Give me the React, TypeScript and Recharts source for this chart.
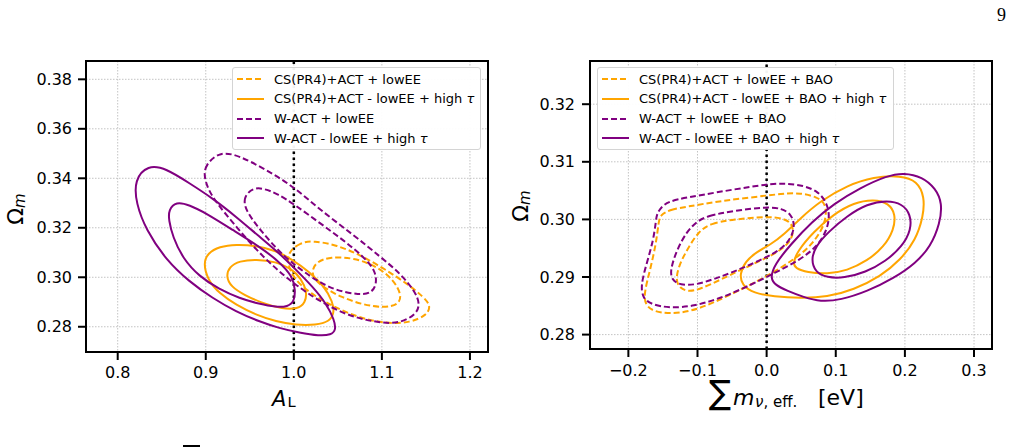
import React from 'react';
import {
  ScatterChart,
  Scatter,
  XAxis,
  YAxis,
  CartesianGrid,
  ReferenceLine,
  ReferenceArea,
} from 'recharts';

const ORANGE = '#ffa500';
const PURPLE = '#800080';
const FONT = '"DejaVu Sans", Verdana, sans-serif';

type Pt = { x: number; y: number };
const toPts = (arr: number[][]): Pt[] => arr.map(([x, y]) => ({ x, y }));

// ---------- Left panel: A_L vs Omega_m ----------
const alTicks = [0.8, 0.9, 1.0, 1.1, 1.2];
const omegaTicksAL = [0.28, 0.3, 0.32, 0.34, 0.36, 0.38];
const alDomain: [number, number] = [0.764, 1.2205];
const omegaDomainAL: [number, number] = [0.2698, 0.3874];

// CS(PR4)+ACT + lowEE (2 sigma, 1 sigma)
const csLowEE_AL_2s = [
  [1.0223, 0.3148], [1.0072, 0.314], [0.9939, 0.3103], [0.9928, 0.3056], [0.9996, 0.2995],
  [1.0186, 0.2935], [1.0451, 0.2881], [1.0754, 0.2834], [1.1057, 0.2813], [1.1322, 0.2816],
  [1.1511, 0.2847], [1.1557, 0.2884], [1.1473, 0.2921], [1.1284, 0.2975], [1.1019, 0.3036],
  [1.0754, 0.309], [1.0489, 0.313],
];
const csLowEE_AL_1s = [
  [1.0205, 0.3029], [1.0261, 0.3063], [1.0413, 0.3083], [1.0678, 0.3079], [1.0943, 0.3045],
  [1.1133, 0.2989], [1.1227, 0.2928], [1.1189, 0.2888], [1.1019, 0.2877], [1.0792, 0.2888],
  [1.0527, 0.2921], [1.0337, 0.2959], [1.0223, 0.2995],
];
// CS(PR4)+ACT - lowEE + high tau
const csHighTau_AL_2s = [
  [0.8973, 0.3057], [0.9022, 0.3097], [0.9154, 0.3124], [0.9344, 0.3133], [0.9571, 0.3128],
  [0.9798, 0.3108], [0.9987, 0.307], [1.0176, 0.3023], [1.0347, 0.2962], [1.0441, 0.2902],
  [1.046, 0.2855], [1.0403, 0.2821], [1.0252, 0.2807], [1.0025, 0.2807], [0.9798, 0.2821],
  [0.9571, 0.2848], [0.9344, 0.2888], [0.9154, 0.2935], [0.9022, 0.2989],
];
const csHighTau_AL_1s = [
  [0.923, 0.3003], [0.9268, 0.3043], [0.9382, 0.3066], [0.9571, 0.3073], [0.9798, 0.3063],
  [0.9968, 0.3036], [1.0082, 0.2996], [1.015, 0.2942], [1.0131, 0.2897], [1.0044, 0.2872],
  [0.9874, 0.2872], [0.9646, 0.2895], [0.9438, 0.2928], [0.9287, 0.2962],
];
// W-ACT + lowEE
const wactLowEE_AL_2s = [
  [0.9163, 0.351], [0.8992, 0.3454], [0.8981, 0.3406], [0.903, 0.3353], [0.9125, 0.3299],
  [0.9314, 0.3218], [0.9542, 0.3123], [0.9769, 0.3043], [0.9996, 0.2975], [1.0299, 0.2901],
  [1.064, 0.284], [1.1019, 0.2813], [1.1208, 0.2816], [1.1379, 0.2847], [1.1436, 0.2888],
  [1.1379, 0.2942], [1.1208, 0.3016], [1.0981, 0.3083], [1.0678, 0.3171], [1.0299, 0.3272],
  [1.0, 0.3366], [0.9693, 0.3433], [0.939, 0.349],
];
const wactLowEE_AL_1s = [
  [0.9542, 0.3362], [0.9428, 0.3326], [0.9447, 0.3272], [0.9617, 0.3191], [0.9883, 0.3083],
  [1.0186, 0.3002], [1.0451, 0.2948], [1.0754, 0.2928], [1.0886, 0.2937], [1.0943, 0.2975],
  [1.0924, 0.3029], [1.0792, 0.3083], [1.0564, 0.315], [1.0299, 0.3218], [1.0, 0.3296],
  [0.9807, 0.3339], [0.9655, 0.3359],
];
// W-ACT - lowEE + high tau
const wactHighTau_AL_2s = [
  [0.8189, 0.3393], [0.8341, 0.3454], [0.8549, 0.344], [0.8814, 0.338], [0.9079, 0.3319],
  [0.9344, 0.3245], [0.9609, 0.3164], [0.9836, 0.3097], [1.0025, 0.303], [1.0214, 0.2962],
  [1.0366, 0.2895], [1.046, 0.2828], [1.0479, 0.2787], [1.0422, 0.2767], [1.029, 0.2763],
  [1.0063, 0.2776], [0.9836, 0.2794], [0.9609, 0.2821], [0.9344, 0.2861], [0.9079, 0.2915],
  [0.8814, 0.2982], [0.8549, 0.307], [0.8322, 0.3191], [0.8208, 0.3299],
];
const wactHighTau_AL_1s = [
  [0.8579, 0.3272], [0.8662, 0.3306], [0.8814, 0.3292], [0.9003, 0.3259], [0.9306, 0.3191],
  [0.9609, 0.3124], [0.9836, 0.3063], [0.9987, 0.3003], [1.0017, 0.2949], [1.0006, 0.2902],
  [0.993, 0.2881], [0.9798, 0.2879], [0.9609, 0.2892], [0.9382, 0.2915], [0.9154, 0.2951],
  [0.8927, 0.3003], [0.8738, 0.3077], [0.8625, 0.3164], [0.8579, 0.3232],
];

// ---------- Right panel: sum m_nu,eff vs Omega_m ----------
const mnuTicks = [-0.2, -0.1, 0.0, 0.1, 0.2, 0.3];
const omegaTicksMnu = [0.28, 0.29, 0.3, 0.31, 0.32];
const mnuDomain: [number, number] = [-0.2555, 0.326];
const omegaDomainMnu: [number, number] = [0.2775, 0.3275];

// CS(PR4)+ACT + lowEE + BAO
const csLowEE_M_2s = [
  [-0.1541, 0.3008], [-0.1396, 0.3017], [-0.1155, 0.3022], [-0.072, 0.3031], [-0.0237, 0.3038],
  [0.0246, 0.3045], [0.0488, 0.3046], [0.0729, 0.3039], [0.085, 0.3028], [0.0865, 0.3005],
  [0.0802, 0.2982], [0.0633, 0.2953], [0.0391, 0.293], [0.0005, 0.2901], [-0.0382, 0.2878],
  [-0.0768, 0.2855], [-0.1106, 0.284], [-0.1396, 0.2836], [-0.1638, 0.284], [-0.1758, 0.2852],
  [-0.1773, 0.2872], [-0.1686, 0.2912], [-0.1599, 0.2958], [-0.1565, 0.2993],
];
const csLowEE_M_1s = [
  [-0.0986, 0.2979], [-0.0816, 0.2993], [-0.0478, 0.3], [0.0005, 0.3005], [0.0246, 0.3002],
  [0.0367, 0.2993], [0.0391, 0.2977], [0.0333, 0.296], [0.0174, 0.2944], [-0.0092, 0.2928],
  [-0.0382, 0.2912], [-0.0671, 0.2895], [-0.0961, 0.2879], [-0.113, 0.2874], [-0.1261, 0.2881],
  [-0.1314, 0.2895], [-0.1275, 0.2918], [-0.1155, 0.2947],
];
// CS(PR4)+ACT - lowEE + BAO + high tau
const csHighTau_M_2s = [
  [-0.0391, 0.2905], [-0.0309, 0.2927], [-0.014, 0.2944], [0.0053, 0.2956], [0.0246, 0.2973],
  [0.0488, 0.3002], [0.0778, 0.3032], [0.1164, 0.3059], [0.1551, 0.3074], [0.1937, 0.3076],
  [0.2179, 0.3067], [0.2285, 0.3039], [0.2266, 0.3005], [0.2155, 0.2964], [0.1937, 0.293],
  [0.1647, 0.2901], [0.1261, 0.2878], [0.0874, 0.2865], [0.0488, 0.2863], [0.0101, 0.2866],
  [-0.0188, 0.2872], [-0.0357, 0.2886],
];
const csHighTau_M_1s = [
  [0.0382, 0.2924], [0.044, 0.2944], [0.0681, 0.2979], [0.0971, 0.3009], [0.1261, 0.3029],
  [0.1551, 0.3035], [0.1768, 0.3028], [0.1865, 0.3009], [0.1841, 0.2982], [0.1696, 0.2952],
  [0.1454, 0.2928], [0.1164, 0.2911], [0.0874, 0.2905], [0.0585, 0.2908], [0.0415, 0.2915],
];
// W-ACT + lowEE + BAO
const wactLowEE_M_2s = [
  [-0.1589, 0.301], [-0.1493, 0.3027], [-0.13, 0.3035], [-0.0961, 0.3042], [-0.0478, 0.3052],
  [0.0005, 0.3061], [0.0246, 0.3063], [0.0536, 0.3059], [0.0754, 0.3048], [0.0874, 0.3028],
  [0.0913, 0.3005], [0.0865, 0.2979], [0.0729, 0.2953], [0.0488, 0.293], [0.0101, 0.2906],
  [-0.0285, 0.2883], [-0.0671, 0.2863], [-0.1058, 0.2849], [-0.1396, 0.2846], [-0.1662, 0.2852],
  [-0.1792, 0.2863], [-0.1821, 0.2886], [-0.1734, 0.2924], [-0.1638, 0.2964], [-0.1599, 0.2999],
];
const wactLowEE_M_1s = [
  [-0.101, 0.2996], [-0.0865, 0.3006], [-0.0478, 0.3015], [0.0005, 0.3022], [0.0222, 0.3019],
  [0.0353, 0.3009], [0.0401, 0.2993], [0.0382, 0.2976], [0.0295, 0.2957], [0.0101, 0.294],
  [-0.0188, 0.2924], [-0.0478, 0.2909], [-0.0768, 0.2896], [-0.1034, 0.2886], [-0.1251, 0.2886],
  [-0.1372, 0.2895], [-0.1396, 0.2912], [-0.13, 0.2947], [-0.1155, 0.2979],
];
// W-ACT - lowEE + BAO + high tau
const wactHighTau_M_2s = [
  [0.0053, 0.2898], [0.0111, 0.2921], [0.0343, 0.2956], [0.0657, 0.2996], [0.0971, 0.3027],
  [0.1357, 0.3055], [0.1744, 0.3076], [0.1986, 0.3081], [0.2251, 0.3074], [0.2444, 0.3054],
  [0.2541, 0.3028], [0.2507, 0.2993], [0.2372, 0.2953], [0.2155, 0.2924], [0.1841, 0.2898],
  [0.1454, 0.2875], [0.1068, 0.286], [0.0778, 0.2857], [0.0536, 0.2865], [0.0295, 0.2876],
  [0.0126, 0.2886],
];
const wactHighTau_M_1s = [
  [0.0643, 0.293], [0.0705, 0.2953], [0.0899, 0.2979], [0.1164, 0.3006], [0.1454, 0.3027],
  [0.1744, 0.3033], [0.1961, 0.3027], [0.2082, 0.3009], [0.2092, 0.2982], [0.1961, 0.2953],
  [0.172, 0.2927], [0.143, 0.2908], [0.1116, 0.2898], [0.0874, 0.2899], [0.0705, 0.2908],
];

const legendAL = ['CS(PR4)+ACT + lowEE', 'CS(PR4)+ACT - lowEE + high τ', 'W-ACT + lowEE', 'W-ACT - lowEE + high τ'];
const legendMnu = [
  'CS(PR4)+ACT + lowEE + BAO',
  'CS(PR4)+ACT - lowEE + BAO + high τ',
  'W-ACT + lowEE + BAO',
  'W-ACT - lowEE + BAO + high τ',
];
const legendColors = [ORANGE, ORANGE, PURPLE, PURPLE];
const legendDashed = [true, false, true, false];

type Contour = { data: number[][]; color: string; dashed: boolean };

const contoursAL: Contour[] = [
  { data: csLowEE_AL_2s, color: ORANGE, dashed: true },
  { data: csLowEE_AL_1s, color: ORANGE, dashed: true },
  { data: csHighTau_AL_2s, color: ORANGE, dashed: false },
  { data: csHighTau_AL_1s, color: ORANGE, dashed: false },
  { data: wactLowEE_AL_2s, color: PURPLE, dashed: true },
  { data: wactLowEE_AL_1s, color: PURPLE, dashed: true },
  { data: wactHighTau_AL_2s, color: PURPLE, dashed: false },
  { data: wactHighTau_AL_1s, color: PURPLE, dashed: false },
];
const contoursMnu: Contour[] = [
  { data: csLowEE_M_2s, color: ORANGE, dashed: true },
  { data: csLowEE_M_1s, color: ORANGE, dashed: true },
  { data: csHighTau_M_2s, color: ORANGE, dashed: false },
  { data: csHighTau_M_1s, color: ORANGE, dashed: false },
  { data: wactLowEE_M_2s, color: PURPLE, dashed: true },
  { data: wactLowEE_M_1s, color: PURPLE, dashed: true },
  { data: wactHighTau_M_2s, color: PURPLE, dashed: false },
  { data: wactHighTau_M_1s, color: PURPLE, dashed: false },
];

const noMarker = () => <g />;
const fmtMinus = (v: number) => (v < 0 ? '\u2212' + Math.abs(v).toFixed(1) : v.toFixed(1));

type PanelProps = {
  left: number;
  width: number;
  height: number;
  margin: { top: number; right: number; bottom: number; left: number };
  yAxisWidth: number;
  xDomain: [number, number];
  yDomain: [number, number];
  xTicks: number[];
  yTicks: number[];
  fmtX: (v: number) => string;
  fmtY: (v: number) => string;
  refX: number;
  contours: Contour[];
  xTickMargin: number;
  yTickMargin: number;
};

function Panel(p: PanelProps) {
  const tickStyle = { fill: '#000', fontSize: 16, fontFamily: FONT };
  const tickLine = { stroke: '#000', strokeWidth: 2 };
  return (
    <div style={{ position: 'absolute', left: p.left, top: 0 }}>
      <ScatterChart width={p.width} height={p.height} margin={p.margin}>
        <CartesianGrid stroke="#b4b4b4" strokeDasharray="1.5 1.5" strokeWidth={0.8} />
        <XAxis
          type="number"
          dataKey="x"
          domain={p.xDomain}
          ticks={p.xTicks}
          interval={0}
          allowDataOverflow
          axisLine={false}
          tickLine={tickLine}
          tickSize={8}
          tickMargin={p.xTickMargin}
          tick={tickStyle}
          tickFormatter={p.fmtX}
          height={40}
        />
        <YAxis
          type="number"
          dataKey="y"
          domain={p.yDomain}
          ticks={p.yTicks}
          interval={0}
          allowDataOverflow
          axisLine={false}
          tickLine={tickLine}
          tickSize={8}
          tickMargin={p.yTickMargin}
          tick={tickStyle}
          tickFormatter={p.fmtY}
          width={p.yAxisWidth}
        />
        {p.contours.map((c, i) => (
          <Scatter
            key={i}
            data={toPts(c.data)}
            fill={c.color}
            line={{
              stroke: c.color,
              strokeWidth: 2,
              strokeDasharray: c.dashed ? '6 3' : undefined,
            }}
            lineJointType="basisClosed"
            shape={noMarker}
            isAnimationActive={false}
          />
        ))}
        <ReferenceLine x={p.refX} stroke="#000" strokeWidth={2.5} strokeDasharray="2.5 3.5" />
        <ReferenceArea
          x1={p.xDomain[0]}
          x2={p.xDomain[1]}
          y1={p.yDomain[0]}
          y2={p.yDomain[1]}
          fill="none"
          fillOpacity={0}
          stroke="#000"
          strokeWidth={2}
          ifOverflow="visible"
        />
      </ScatterChart>
    </div>
  );
}

function LegendBox({ left, top, width, labels }: { left: number; top: number; width: number; labels: string[] }) {
  return (
    <div
      style={{
        position: 'absolute',
        left,
        top,
        width,
        height: 83,
        border: '1px solid #d4d4d4',
        borderRadius: 3,
        background: 'rgba(255,255,255,0.95)',
        boxSizing: 'border-box',
        fontFamily: FONT,
        fontSize: 13,
        color: '#000',
      }}
    >
      {labels.map((lab, i) => {
        const parts = lab.split('τ');
        return (
          <div
            key={i}
            style={{ position: 'absolute', left: 4, top: 1 + i * 19.8, height: 20, display: 'flex', alignItems: 'center', whiteSpace: 'nowrap' }}
          >
            <svg width={27} height={20} style={{ display: 'block' }}>
              <line
                x1={0}
                y1={10}
                x2={27}
                y2={10}
                stroke={legendColors[i]}
                strokeWidth={2}
                strokeDasharray={legendDashed[i] ? '6 3' : undefined}
              />
            </svg>
            <span style={{ marginLeft: 10 }}>
              {parts[0]}
              {parts.length > 1 ? <i>τ</i> : null}
            </span>
          </div>
        );
      })}
    </div>
  );
}

export default function App() {
  return (
    <div style={{ position: 'absolute', left: 0, top: 0, width: 1013, height: 447, background: '#fff', overflow: 'hidden' }}>
      <Panel
        left={0}
        width={500}
        height={400}
        margin={{ top: 61, right: 12, bottom: 8, left: 0 }}
        yAxisWidth={86}
        xDomain={alDomain}
        yDomain={omegaDomainAL}
        xTicks={alTicks}
        yTicks={omegaTicksAL}
        fmtX={(v) => v.toFixed(1)}
        fmtY={(v) => v.toFixed(2)}
        refX={1.0}
        contours={contoursAL}
        xTickMargin={7}
        yTickMargin={6}
      />
      <Panel
        left={500}
        width={513}
        height={400}
        margin={{ top: 61, right: 21, bottom: 11, left: 0 }}
        yAxisWidth={90}
        xDomain={mnuDomain}
        yDomain={omegaDomainMnu}
        xTicks={mnuTicks}
        yTicks={omegaTicksMnu}
        fmtX={fmtMinus}
        fmtY={(v) => v.toFixed(2)}
        refX={0.0}
        contours={contoursMnu}
        xTickMargin={8}
        yTickMargin={7}
      />
      <LegendBox left={232} top={67} width={249} labels={legendAL} />
      <LegendBox left={597} top={67} width={297} labels={legendMnu} />
      <svg
        width={1013}
        height={447}
        style={{ position: 'absolute', left: 0, top: 0, pointerEvents: 'none' }}
        fontFamily={FONT}
      >
        {/* page number */}
        <text x={997} y={21} fontSize={18} fontFamily='"Liberation Serif", "DejaVu Serif", serif' fill="#000">
          9
        </text>
        {/* y labels */}
        <text transform="rotate(-90 23 209)" x={23} y={209} textAnchor="middle" fontSize={22} fill="#000">
          Ω
          <tspan fontStyle="italic" fontSize={15} dy={1.5}>
            m
          </tspan>
        </text>
        <text transform="rotate(-90 528 206)" x={528} y={206} textAnchor="middle" fontSize={22} fill="#000">
          Ω
          <tspan fontStyle="italic" fontSize={15} dy={1.5}>
            m
          </tspan>
        </text>
        {/* x label, left */}
        <text x={272} y={406} fontSize={21} fontStyle="italic" fill="#000">
          A
        </text>
        <text x={287.5} y={406.5} fontSize={14.7} fill="#000">
          L
        </text>
        {/* x label, right */}
        <text x={709} y={404} fontSize={33} fill="#000">
          ∑
        </text>
        <text x={733} y={405} fontSize={22} fontStyle="italic" fill="#000">
          m
        </text>
        <text x={755} y={407} fontSize={15} fill="#000">
          <tspan fontStyle="italic">ν</tspan>, eff.
        </text>
        <text x={818} y={405} fontSize={22} fill="#000">
          [eV]
        </text>
        {/* top stroke of the caption's summation sign, cut by the page edge */}
        <rect x={183} y={445} width={17} height={2} fill="#000" />
      </svg>
    </div>
  );
}
